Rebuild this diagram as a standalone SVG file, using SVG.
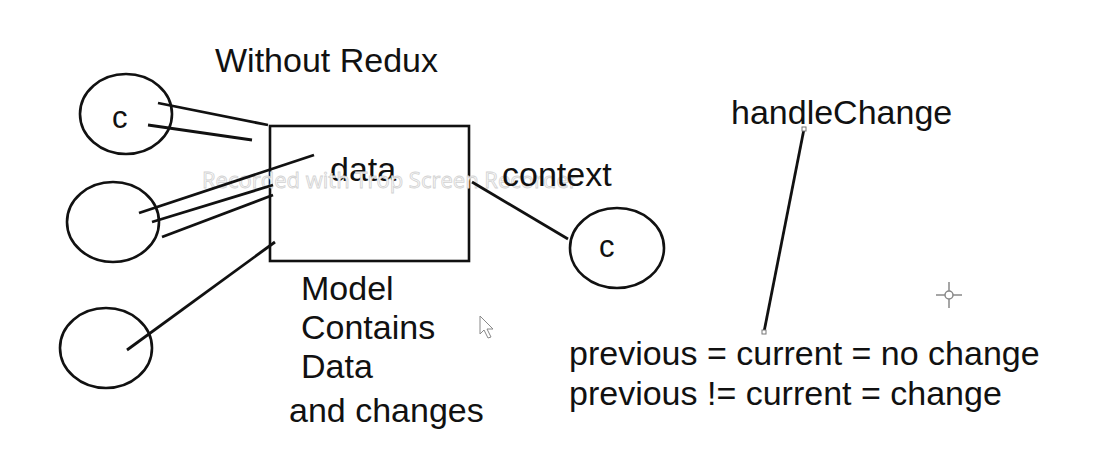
<svg xmlns="http://www.w3.org/2000/svg" width="1093" height="474" viewBox="0 0 1093 474">
<style>
  .t { font-family: "Liberation Sans", Arial, sans-serif; font-size: 34px; fill: #111; }
  .c { font-family: "Liberation Sans", Arial, sans-serif; font-size: 31px; fill: #111; }
  .node { fill: none; stroke: #111; stroke-width: 2.6; }
  .conn line { stroke: #111; stroke-width: 2.8; stroke-linecap: butt; }
  .wm { font-family: "Open Sans", "Liberation Sans", sans-serif; font-size: 22px; fill: #fafafa; stroke: #d2d2d2; stroke-width: 0.8; }
  .handle { fill: #fff; stroke: #777; stroke-width: 1; }
  .ui { fill: none; stroke: #888; stroke-width: 1.5; }
</style>
<rect width="1093" height="474" fill="#ffffff"/>

<text class="t" x="215" y="72">Without Redux</text>

<g id="comp-top">
  <ellipse class="node" cx="126" cy="114" rx="46" ry="40"/>
  <text class="c" x="112" y="128">c</text>
</g>
<g id="comp-mid">
  <ellipse class="node" cx="113" cy="222" rx="46" ry="40"/>
</g>
<g id="comp-bottom">
  <ellipse class="node" cx="106" cy="348" rx="46" ry="40"/>
</g>
<g id="model">
  <rect class="node" x="270" y="126" width="199" height="135" stroke-width="3"/>
  <text class="t" x="330" y="181">data</text>
</g>

<text class="wm" x="202" y="188">Recorded with Trop Screen Recorder</text>

<g id="comp-right">
  <ellipse class="node" cx="617" cy="248" rx="47" ry="40"/>
  <text class="c" x="599" y="257">c</text>
</g>

<text class="t" x="502" y="186">context</text>

<g id="connectors" class="conn">
  <line x1="158" y1="103" x2="268" y2="125"/>
  <line x1="148" y1="125" x2="252" y2="140"/>
  <line x1="139" y1="213" x2="314" y2="155"/>
  <line x1="152" y1="222" x2="273" y2="185"/>
  <line x1="162" y1="237" x2="273" y2="195"/>
  <line x1="127" y1="350" x2="275" y2="242"/>
  <line x1="472" y1="182" x2="568" y2="239"/>
  <line x1="804" y1="129" x2="764" y2="332"/>
</g>
<rect class="handle" x="802" y="127" width="4" height="4"/>
<rect class="handle" x="762" y="330" width="4" height="4"/>

<g id="model-note">
  <text class="t" x="301" y="300">Model</text>
  <text class="t" x="301" y="339">Contains</text>
  <text class="t" x="301" y="378">Data</text>
  <text class="t" x="289" y="422">and changes</text>
</g>

<text class="t" x="731" y="124">handleChange</text>

<g id="rules">
  <text class="t" x="569" y="365">previous = current = no change</text>
  <text class="t" x="569" y="405">previous != current = change</text>
</g>

<path d="M480,316 L480,334 L484,330 L488,338 L491,337 L487,329 L493,329 Z" fill="#fff" stroke="#888" stroke-width="1"/>
<g class="ui">
  <circle cx="949" cy="295" r="4"/>
  <line x1="936" y1="295" x2="945" y2="295"/>
  <line x1="953" y1="295" x2="962" y2="295"/>
  <line x1="949" y1="282" x2="949" y2="291"/>
  <line x1="949" y1="299" x2="949" y2="308"/>
</g>
</svg>
